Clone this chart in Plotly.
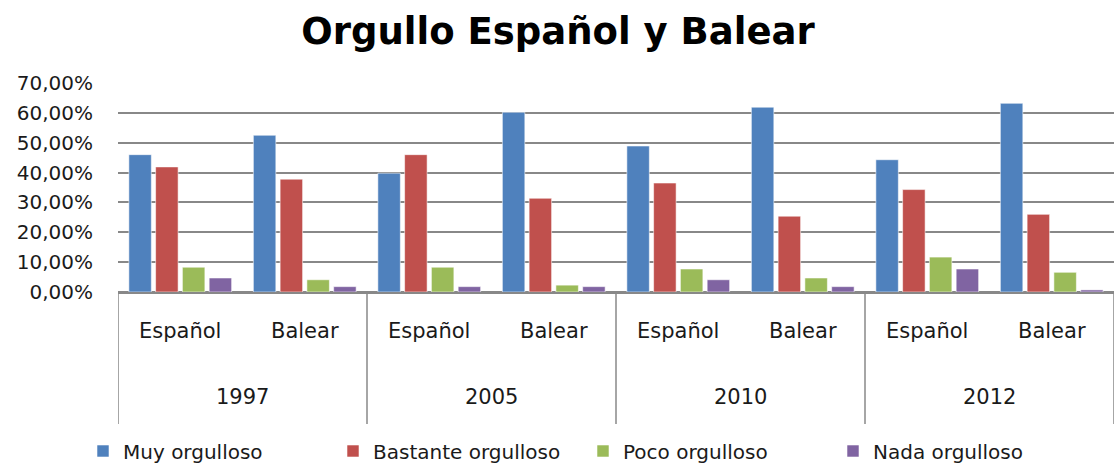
import plotly.graph_objects as go

years = ["1997", "2005", "2010", "2012"]
groups = ["Español", "Balear"]
series = ["Muy orgulloso", "Bastante orgulloso", "Poco orgulloso", "Nada orgulloso"]

# values in % per (year, group) order: 1997 E, 1997 B, 2005 E, 2005 B, 2010 E, 2010 B, 2012 E, 2012 B
muy = [46.0, 52.5, 39.8, 60.2, 48.9, 61.9, 44.3, 63.2]
bastante = [41.9, 37.8, 46.0, 31.4, 36.5, 25.4, 34.3, 26.0]
poco = [8.3, 4.1, 8.3, 2.3, 7.7, 4.7, 11.7, 6.6]
nada = [4.7, 1.8, 1.8, 1.8, 4.1, 1.8, 7.7, 0.7]

colors = ["#4F81BD", "#C0504D", "#9BBB59", "#8064A2"]
values = [muy, bastante, poco, nada]

cats = [f"{y} {g}" for y in years for g in groups]

FONT = "DejaVu Sans"
TXT = "#1a1a1a"
GRID = "#888888"

fig = go.Figure()
for name, vals, col in zip(series, values, colors):
    fig.add_trace(go.Bar(
        x=cats, y=vals, name=name,
        marker=dict(color=col, line=dict(color="rgba(255,255,255,0.55)", width=1)),
    ))

W, H = 1116, 466
L, R, T, B = 118, 2, 83, 174
plot_h = H - T - B

def py(pix):
    return (H - B - pix) / plot_h

fig.update_layout(
    width=W, height=H,
    margin=dict(l=L, r=R, t=T, b=B, autoexpand=False),
    paper_bgcolor="white", plot_bgcolor="white",
    separators=",.",
    barmode="group", bargap=0.14, bargroupgap=0.16,
    font=dict(family=FONT, color=TXT, size=19),
    title=dict(text="<b>Orgullo Español y Balear</b>", x=0.5, xref="container", xanchor="center",
               y=1 - 31 / H, yanchor="middle", yref="container",
               font=dict(family=FONT, size=37, color="#000000")),
    showlegend=True,
    legend=dict(orientation="h", x=(83 - L) / (W - L - R), xanchor="left",
                y=py(451), yanchor="middle", font=dict(size=20, family=FONT, color=TXT),
                entrywidth=205, entrywidthmode="pixels", traceorder="normal",
                itemwidth=30, bgcolor="rgba(0,0,0,0)"),
    xaxis=dict(type="category", showticklabels=False, showgrid=False, zeroline=False,
               showline=True, linecolor=GRID, linewidth=1.5, ticks="",
               range=[-0.5, len(cats) - 0.5], fixedrange=True),
    yaxis=dict(range=[0, 70], dtick=10, tick0=0, tickformat=".2f", ticksuffix="%",
               showgrid=True, gridcolor=GRID, gridwidth=1.5, zeroline=True,
               zerolinecolor=GRID, zerolinewidth=1.5, showline=False, ticks="",
               ticklabelstandoff=24, tickfont=dict(size=20, family=FONT, color=TXT),
               automargin=False, fixedrange=True),
)

# category divider lines below the axis
shapes = []
for xb in [-0.5, 1.5, 3.5, 5.5, 7.5]:
    shapes.append(dict(type="line", xref="x", yref="paper", x0=xb, x1=xb,
                       y0=0, y1=py(424), line=dict(color=GRID, width=1.5)))
fig.update_layout(shapes=shapes)

ann = []
for i, c in enumerate(cats):
    ann.append(dict(x=i, y=py(331), xref="x", yref="paper", text=groups[i % 2],
                    showarrow=False, xanchor="center", yanchor="middle",
                    font=dict(size=21, family=FONT, color=TXT)))
for j, yr in enumerate(years):
    ann.append(dict(x=2 * j + 0.5, y=py(397), xref="x", yref="paper", text=yr,
                    showarrow=False, xanchor="center", yanchor="middle",
                    font=dict(size=21, family=FONT, color=TXT)))
fig.update_layout(annotations=ann)

fig.write_html("out.html", config={"displayModeBar": False},
               post_script="document.body.style.margin='0';document.body.style.overflow='hidden';")
